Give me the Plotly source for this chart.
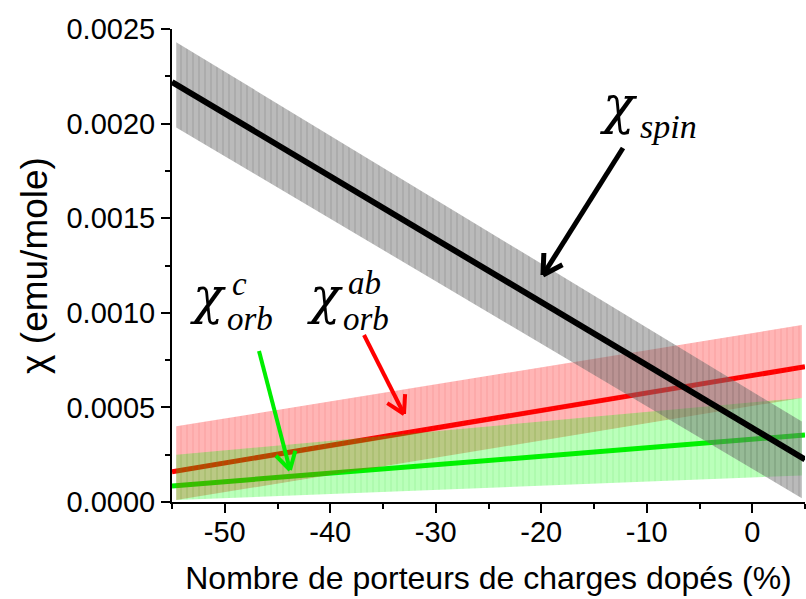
import math
import plotly.graph_objects as go

# ---- data ----
x_line = [-55, 5]
spin_line = [0.00222, 0.000225]
orb_ab_line = [0.00016, 0.000715]
orb_c_line = [0.000085, 0.000354]

x_band = [-54.6, 4.7]
spin_upper = [0.00243, 0.000425]
spin_lower = [0.00198, 0.00002]
ab_upper = [0.00040, 0.000935]
ab_lower = [0.00001, 0.00055]
c_upper = [0.00025, 0.00055]
c_lower = [0.00001, 0.00014]

x_tick_vals = [-50, -40, -30, -20, -10, 0]
x_tick_text = ["-50", "-40", "-30", "-20", "-10", "0"]
y_tick_vals = [0.0, 0.0005, 0.0010, 0.0015, 0.0020, 0.0025]
y_tick_text = ["0.0000", "0.0005", "0.0010", "0.0015", "0.0020", "0.0025"]

# ---- layout geometry ----
W, H = 806, 599
ML, MR, MT, MB = 172, 1, 29, 97
PW, PH = W - ML - MR, H - MT - MB


def px(xp):
    return (xp - ML) / PW


def py(yp):
    return (H - MB - yp) / PH


fig = go.Figure()

# coloured lines under the translucent bands
for yv, col, wd in [(orb_ab_line, "#ff0000", 5), (orb_c_line, "#00ee00", 5)]:
    fig.add_trace(go.Scatter(x=x_line, y=yv, mode="lines", line=dict(color=col, width=wd),
                             showlegend=False, hoverinfo="skip"))

bands = [
    (ab_upper, ab_lower, "rgba(255,0,0,0.29)", "rgba(230,60,60,0.10)"),
    (c_upper, c_lower, "rgba(0,255,0,0.27)", "rgba(0,190,0,0.07)"),
    (spin_upper, spin_lower, "rgba(110,110,110,0.48)", "rgba(80,80,80,0.15)"),
]
for up, lo, bg, fg in bands:
    fig.add_trace(go.Scatter(
        x=x_band + x_band[::-1], y=up + lo[::-1], mode="none", fill="toself",
        fillcolor=bg,
        fillpattern=dict(shape="|", size=6, solidity=0.3, fgcolor=fg, bgcolor=bg, fillmode="replace"),
        showlegend=False, hoverinfo="skip"))

# black spin line on top
fig.add_trace(go.Scatter(x=x_line, y=spin_line, mode="lines", line=dict(color="black", width=6),
                         showlegend=False, hoverinfo="skip"))

# ---- arrows (line shapes with open V heads) ----
shapes = []


def arrow(x0, y0, x1, y1, color, width, head=22, ang=30):
    shapes.append(dict(type="line", xref="paper", yref="paper", x0=px(x0), y0=py(y0),
                       x1=px(x1), y1=py(y1), line=dict(color=color, width=width)))
    dx, dy = x0 - x1, y0 - y1
    L = math.hypot(dx, dy)
    ux, uy = dx / L, dy / L
    for s in (1, -1):
        a = math.radians(ang * s)
        hx = ux * math.cos(a) - uy * math.sin(a)
        hy = ux * math.sin(a) + uy * math.cos(a)
        shapes.append(dict(type="line", xref="paper", yref="paper", x0=px(x1), y0=py(y1),
                           x1=px(x1 + hx * head), y1=py(y1 + hy * head),
                           line=dict(color=color, width=width)))


arrow(623, 148, 543, 275, "black", 5)
arrow(364, 335, 404, 414, "#ff0000", 4, head=20)
arrow(259, 351, 290, 470, "#00ee00", 4, head=20)

# ---- labels ----
anns = []


def lab(text, xp, yp, size, family="Liberation Serif"):
    anns.append(dict(text="<i>" + text + "</i>", xref="paper", yref="paper", x=px(xp), y=py(yp),
                     xanchor="left", yanchor="middle", showarrow=False,
                     font=dict(family=family, size=size, color="black")))


lab("χ", 597, 105, 52, "DejaVu Serif")
lab("spin", 638, 126, 34)
lab("χ", 188, 296, 50, "DejaVu Serif")
lab("c", 230, 284, 33)
lab("orb", 225, 319, 33)
lab("χ", 305, 296, 50, "DejaVu Serif")
lab("ab", 346, 283, 33)
lab("orb", 341, 319, 33)

axis_common = dict(showgrid=False, zeroline=False, showline=True, linecolor="black", linewidth=2,
                   ticks="outside", ticklen=9, tickwidth=2, tickcolor="black",
                   tickfont=dict(family="Liberation Sans", size=29, color="black"))

fig.update_layout(
    width=W, height=H,
    margin=dict(l=ML, r=MR, t=MT, b=MB, autoexpand=False),
    paper_bgcolor="white", plot_bgcolor="white",
    shapes=shapes, annotations=anns,
    xaxis=dict(range=[-55, 5], tickvals=x_tick_vals, ticktext=x_tick_text, ticklabelstandoff=-6,
               minor=dict(dtick=5, ticks="outside", ticklen=5, tickwidth=2, tickcolor="black"),
               title=dict(text="Nombre de porteurs de charges dopés (%)", standoff=20,
                          font=dict(family="Liberation Sans", size=32, color="black")),
               **axis_common),
    yaxis=dict(range=[0, 0.0025], tickvals=y_tick_vals, ticktext=y_tick_text,
               minor=dict(dtick=0.00025, ticks="outside", ticklen=5, tickwidth=2, tickcolor="black"),
               title=dict(text="χ (emu/mole)", standoff=8,
                          font=dict(family="Liberation Sans", size=37, color="black")),
               **axis_common),
)

fig.write_html("out.html", config={"displayModeBar": False},
               post_script="document.body.style.margin='0';document.body.style.overflow='hidden';")
